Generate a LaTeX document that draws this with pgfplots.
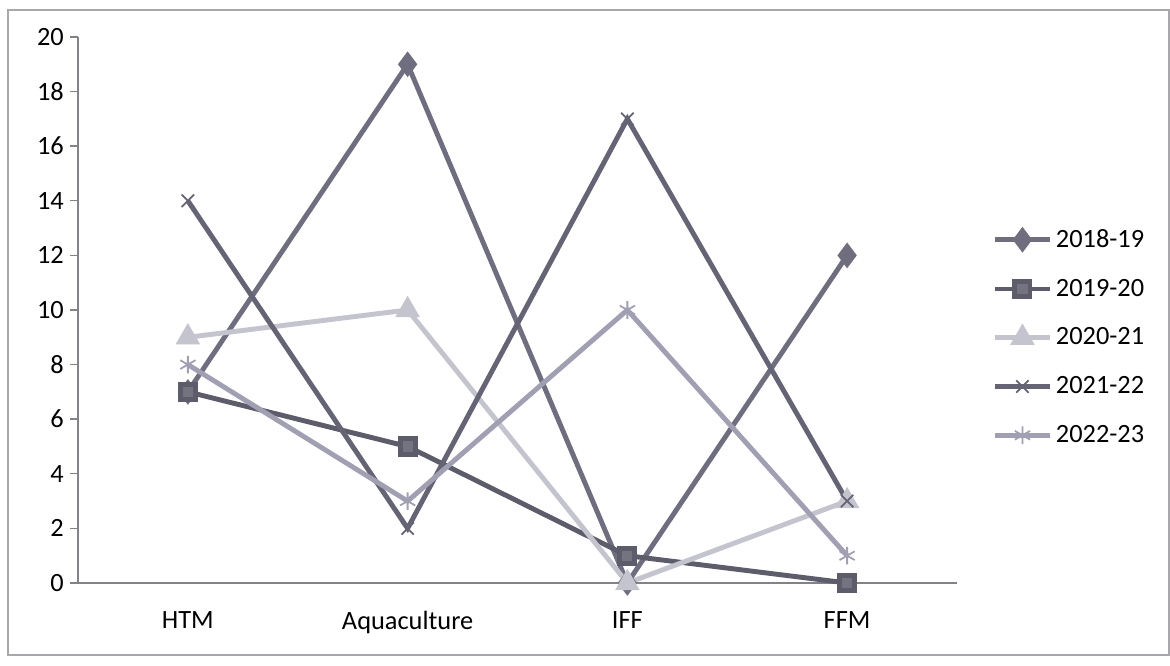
\documentclass[border=0pt]{standalone}
\usepackage{fontspec}
\setmainfont{Carlito}
\usepackage{pgfplots}
\pgfplotsset{compat=1.18}

\definecolor{sA}{RGB}{110,110,126}
\definecolor{sB}{RGB}{92,92,106}
\definecolor{sC}{RGB}{196,196,206}
\definecolor{sD}{RGB}{100,100,116}
\definecolor{sE}{RGB}{160,160,178}
\definecolor{axisgray}{RGB}{130,130,136}

\begin{document}
\begin{tikzpicture}
% page: 1170x666 px at 0.02cm per px
\path (0,0) rectangle (23.4cm,13.32cm);
\draw[axisgray!70, line width=0.7pt] (0.16cm,0.22cm) rectangle (23.38cm,13.12cm);
\begin{axis}[
  at={(1.56cm,1.66cm)}, anchor=south west,
  scale only axis,
  width=17.58cm, height=10.92cm,
  xmin=-0.5, xmax=3.5,
  ymin=0, ymax=20,
  axis x line*=bottom, axis y line*=left,
  axis line style={axisgray, line width=0.8pt},
  xtick={0,1,2,3},
  xticklabels={HTM,Aquaculture,IFF,FFM},
  minor xtick={-0.5,0.5,1.5,2.5,3.5},
  ytick={0,2,...,20},
  tick align=outside,
  major tick length=0.16cm, minor tick length=0.16cm,
  xtick style={draw=none},
  minor x tick style={axisgray, line width=0.8pt},
  ytick style={axisgray, line width=0.8pt},
  tick label style={font=\fontsize{15}{18}\selectfont},
  /pgf/number format/assume math mode=true,
  xticklabel style={yshift=-0.28cm},
  clip=false,
  every axis plot/.append style={line width=2.8pt},
  legend style={draw=none, fill=none, at={(1.04,0.45)}, anchor=west,
    font=\fontsize{15}{18}\selectfont, row sep=0.44cm, inner sep=0pt,
    nodes={inner sep=2pt}},
  legend cell align=left,
  legend image code/.code={%
    \draw[mark repeat=2,mark phase=2] plot coordinates {(0cm,0cm)(0.55cm,0cm)(1.1cm,0cm)};},
]
% 2018-19
\addplot[sA, mark=diamond*, mark size=5pt] coordinates {(0,7)(1,19)(2,0)(3,12)};
\addlegendentry{2018-19}
% 2019-20
\addplot[sB, mark=square*, mark size=4.3pt, mark options={fill=sB!85!white}] coordinates {(0,7)(1,5)(2,1)(3,0)};
\addlegendentry{2019-20}
% 2020-21
\addplot[sC, mark=triangle*, mark size=5.3pt] coordinates {(0,9)(1,10)(2,0)(3,3)};
\addlegendentry{2020-21}
% 2021-22
\addplot[sD, mark=x, mark size=5pt, mark options={line width=1pt}] coordinates {(0,14)(1,2)(2,17)(3,3)};
\addlegendentry{2021-22}
% 2022-23
\addplot[sE, mark=asterisk, mark size=5pt, mark options={line width=1pt}] coordinates {(0,8)(1,3)(2,10)(3,1)};
\addlegendentry{2022-23}
\end{axis}
\end{tikzpicture}
\end{document}
